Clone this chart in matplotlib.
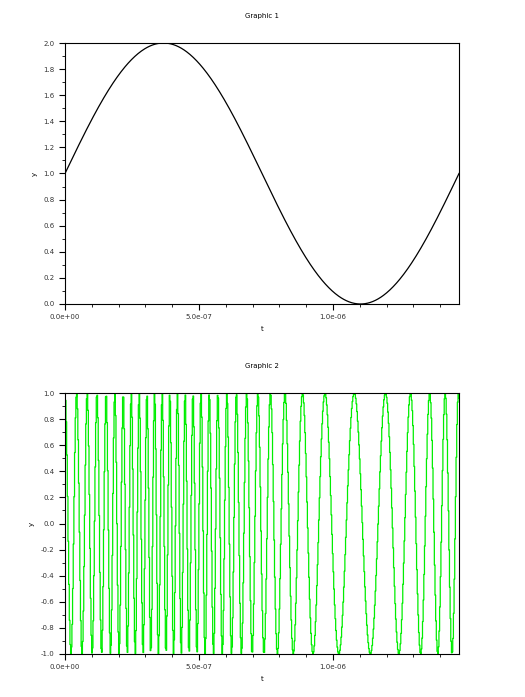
import numpy as np
import matplotlib
matplotlib.use("Agg")
import matplotlib.pyplot as plt
from matplotlib.ticker import MultipleLocator, FixedLocator

# Signal parameters
t_end = 1.47e-6          # one period of the message
msg_offset = 1.0
msg_amp = 1.0
carrier_freq = 21.8e6    # Hz
freq_dev = 13.5e6        # Hz
n_samples = 600

t = np.linspace(0, t_end, n_samples)
fm = 1.0 / t_end
message = msg_offset + msg_amp * np.sin(2 * np.pi * fm * t)
phase = 2 * np.pi * carrier_freq * t + (freq_dev / fm) * (1 - np.cos(2 * np.pi * fm * t))
fm_signal = np.cos(phase)

W, H = 525, 697
fig = plt.figure(figsize=(W / 100, H / 100), dpi=100)

def style(ax, title, ymin, ymax, ymaj, ymin_step):
    ax.set_xlim(0, t_end)
    ax.set_ylim(ymin, ymax)
    ax.set_title(title, fontsize=5, pad=18)
    ax.set_xlabel("t", fontsize=5)
    ax.set_ylabel("y", fontsize=5)
    ax.xaxis.set_major_locator(FixedLocator([0, 5e-7, 1e-6]))
    ax.set_xticklabels(["0.0e+00", "5.0e-07", "1.0e-06"])
    ax.xaxis.set_minor_locator(MultipleLocator(1e-7))
    ax.yaxis.set_major_locator(MultipleLocator(ymaj))
    ax.yaxis.set_minor_locator(MultipleLocator(ymin_step))
    ax.yaxis.set_major_formatter(matplotlib.ticker.FormatStrFormatter("%.1f"))
    ax.tick_params(labelsize=5, length=4, width=0.8, labelcolor="#333333")
    ax.tick_params(which="minor", length=2.5, width=0.6)

ax1 = fig.add_axes([65 / W, 1 - 304 / H, 394 / W, 261 / H])
ax1.plot(t, message, color="black", lw=0.9)
style(ax1, "Graphic 1", 0, 2, 0.2, 0.1)

ax2 = fig.add_axes([65 / W, 1 - 654 / H, 394 / W, 261 / H])
ax2.plot(t, fm_signal, color="#00ee00", lw=0.9, drawstyle="steps-mid")
style(ax2, "Graphic 2", -1, 1, 0.2, 0.1)

fig.savefig("out.png", dpi=100)
